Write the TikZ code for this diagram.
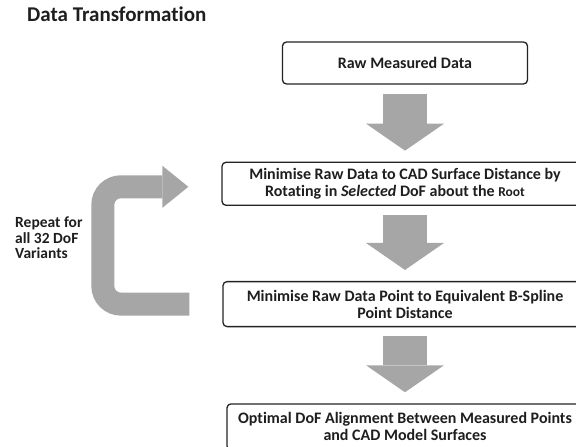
\documentclass[tikz,border=0pt]{standalone}
\usepackage{fontspec}
\setmainfont{Carlito}[Ligatures=NoCommon]
\usetikzlibrary{positioning,arrows.meta}
\definecolor{boxline}{RGB}{35,35,35}
\definecolor{textdark}{RGB}{30,30,30}
\definecolor{arrowgray}{RGB}{166,166,166}
\tikzset{
  stepbox/.style={draw=boxline, line width=1.3pt, rounded corners=4pt, align=center,
    text=textdark, font=\bfseries\fontsize{16}{17}\selectfont, inner sep=2pt},
  blockarrow/.style={draw=arrowgray, line width=44pt, shorten <=9pt, shorten >=11pt,
    -{Triangle[length=27pt,width=78pt,line width=0pt]}},
  looparrow/.style={draw=arrowgray, line width=23pt, rounded corners=18pt,
    -{Triangle[length=26pt,width=42pt,line width=0pt]}},
  sidenote/.style={align=left, inner sep=0pt, text=textdark,
    font=\bfseries\fontsize{15.5}{15.5}\selectfont},
}

\begin{document}
\begin{tikzpicture}[x=1pt, y=1pt]
\useasboundingbox (0,0) rectangle (576,-447);
\clip (0,0) rectangle (576,-447);
\node[anchor=base west, inner sep=0pt, text=textdark, font=\bfseries\fontsize{21}{24}\selectfont] (title) at (27,-21) {Data Transformation};
\node[stepbox, minimum width=245pt, minimum height=42pt] (raw) at (405,-63) {Raw Measured Data};
\node[stepbox, minimum width=366pt, minimum height=43pt, below=77pt of raw] (rotate) {Minimise Raw Data to CAD Surface Distance by\\
  Rotating in \textit{Selected} DoF about the {\fontsize{13.5}{17}\selectfont Root}\hspace*{20pt}};
\node[stepbox, minimum width=364pt, minimum height=45pt, below=75pt of rotate] (bspline) {Minimise Raw Data Point to Equivalent B-Spline\\ Point Distance};
\node[stepbox, minimum width=356pt, minimum height=46pt, below=76pt of bspline] (optimal) {Optimal DoF Alignment Between Measured Points\\ and CAD Model Surfaces};
\draw[blockarrow] (raw) -- (rotate);
\draw[blockarrow] (rotate) -- (bspline);
\draw[blockarrow] (bspline) -- (optimal);
\coordinate[left=33pt of bspline.west] (loopout);
\coordinate[left=33pt of rotate.west, yshift=-3pt] (loopin);
\draw[looparrow] (loopout) -- ++(-86.5,0) |- (loopin);
\node[sidenote, anchor=west] (repeat) at (15,-238) {Repeat for\\ all 32 DoF\\ Variants};
\end{tikzpicture}
\end{document}
